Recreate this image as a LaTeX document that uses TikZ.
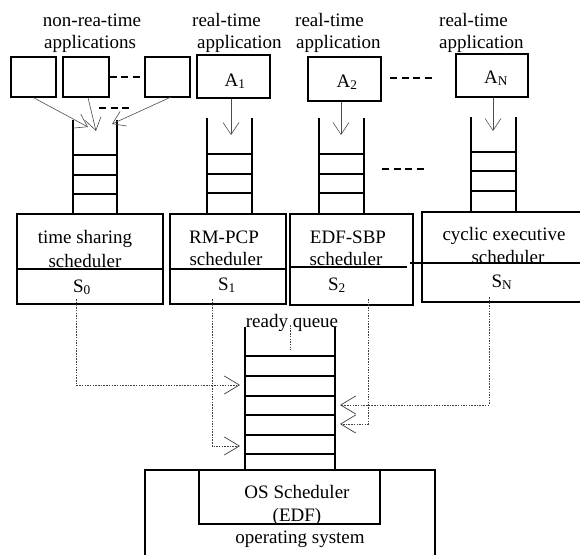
\documentclass[tikz,border=0pt]{standalone}
\usepackage{fontspec}
\setmainfont{Liberation Serif}
\usetikzlibrary{arrows.meta}
\begin{document}
\begin{tikzpicture}[x=1pt,y=-1pt,
  lbl/.style={font=\fontsize{19}{22}\selectfont, inner sep=0pt, anchor=base},
  lblw/.style={lbl, anchor=base west},
  box/.style={draw, line width=1.3pt, inner sep=0pt},
  qline/.style={line width=1.3pt},
  garr/.style={draw=black!70, line width=0.6pt, -{Straight Barb[length=12pt,width=16pt]}},
  dots/.style={draw=black!75, line width=0.7pt, dash pattern=on 1.5pt off 1.2pt},
  darr/.style={dots, -{Straight Barb[length=15pt,width=18pt]}},
  dashthree/.style={line width=1.5pt, dash pattern=on 7pt off 4.5pt},
]
\useasboundingbox (0,0) rectangle (580,554);

% application boxes
\node[box, minimum width=45pt, minimum height=40pt] (n1) at (33.5,77) {};
\node[box, minimum width=46pt, minimum height=40pt] (n2) at (86,77) {};
\node[box, minimum width=45pt, minimum height=40pt] (n3) at (167.5,77) {};
\node[box, minimum width=73pt, minimum height=43pt] (a1) at (233.5,76.5) {};
\node[box, minimum width=73pt, minimum height=44pt] (a2) at (344.5,79) {};
\node[box, minimum width=72pt, minimum height=43pt] (aN) at (492,75.5) {};

% scheduler boxes
\node[box, minimum width=146pt, minimum height=90pt] (s0) at (90,259) {};
\node[box, minimum width=116pt, minimum height=90pt] (s1) at (228,259) {};
\node[box, minimum width=123pt, minimum height=91pt] (s2) at (351.5,259.5) {};
\node[box, minimum width=162pt, minimum height=90pt] (sN) at (503,257) {};
\draw[qline] (17,269) -- (163,269);
\draw[qline] (170,269) -- (286,269);
\draw[qline] (290,267) -- (407,267);
\draw[qline] (410,263) -- (584,263);

% OS boxes
\node[box, minimum width=290pt, minimum height=90pt] (os) at (290,515) {};
\node[box, minimum width=181pt, minimum height=54pt] (oss) at (289.5,497) {};

% queues
\draw[qline] (73,120) -- (73,214) (117,120) -- (117,214)
  (73,155) -- (117,155) (73,175) -- (117,175) (73,194) -- (117,194);
\draw[qline] (207,118) -- (207,214) (252,118) -- (252,214)
  (207,154) -- (252,154) (207,174) -- (252,174) (207,193) -- (252,193);
\draw[qline] (319,118) -- (319,214) (364,118) -- (364,214)
  (319,154) -- (364,154) (319,174) -- (364,174) (319,193) -- (364,193);
\draw[qline] (471,117) -- (471,212) (516,117) -- (516,212)
  (471,152) -- (516,152) (471,171) -- (516,171) (471,191) -- (516,191);
% ready queue
\draw[qline] (245,327) -- (245,470) (335,327) -- (335,470);
\foreach \yy in {356,376,396,415,435,454}
  \draw[qline] (245,\yy) -- (335,\yy);

% dashed separators
\coordinate (dl1) at (99,108); \coordinate (dl2) at (131,108);
\coordinate (dr1) at (390,78); \coordinate (dr2) at (435,78);
\coordinate (dq1) at (382,169); \coordinate (dq2) at (427,169);
\draw[dashthree] (n2.east) -- (n3.west);
\draw[dashthree] (dl1) -- (dl2);
\draw[dashthree] (dr1) -- (dr2);
\draw[dashthree] (dq1) -- (dq2);

% arrows into queues
\coordinate (t1) at (88,127);
\coordinate (t2) at (96,131);
\coordinate (t3) at (112,124);
\coordinate (b3) at (171,97);
\draw[garr] (n1.south) -- (t1);
\draw[garr] ([xshift=2pt]n2.south) -- (t2);
\draw[garr] (b3) -- (t3);
\coordinate (qa1) at (231,135);
\coordinate (qa2) at (341,135);
\coordinate (qaN) at (493,131);
\draw[garr] (a1.south -| qa1) -- (qa1);
\draw[garr] (a2.south -| qa2) -- (qa2);
\draw[garr] (aN.south -| qaN) -- (qaN);

% dotted connectors to ready queue
\coordinate (d0) at (76,299);  \coordinate (r0) at (240,385);
\coordinate (d1) at (212,299); \coordinate (r1) at (240,446);
\coordinate (d2) at (368,299); \coordinate (r2) at (340,424);
\coordinate (dN) at (489,297); \coordinate (rN) at (340,405);
\draw[darr] (d0) |- (r0);
\draw[darr] (d1) |- (r1);
\draw[darr] (d2) |- (r2);
\draw[darr] (dN) |- (rN);
\coordinate (rq1) at (290,325); \coordinate (rq2) at (290,350);
\draw[dots] (rq1) -- (rq2);

% texts
\node[lbl] (l0a) at (92,26) {non-rea-time};
\node[lbl] (l0b) at (90,48) {applications};
\node[lblw] (l1a) at (192,26) {real-time};
\node[lblw] (l1b) at (197,48) {application};
\node[lblw] (l2a) at (295,26) {real-time};
\node[lblw] (l2b) at (296,48) {application};
\node[lblw] (l3a) at (439,26) {real-time};
\node[lblw] (l3b) at (439,48) {application};
\node[lbl] (ta1) at (235,86) {A\textsubscript{1}};
\node[lbl] (ta2) at (347,87) {A\textsubscript{2}};
\node[lbl] (taN) at (496,83) {A\textsubscript{N}};

\node[lbl] (s0a) at (85,243) {time sharing};
\node[lbl] (s0b) at (85,267) {scheduler};
\node[lbl] (s0c) at (82,292) {S\textsubscript{0}};
\node[lbl] (s1a) at (224,243) {RM-PCP};
\node[lbl] (s1b) at (226,265) {scheduler};
\node[lbl] (s1c) at (227,290) {S\textsubscript{1}};
\node[lbl] (s2a) at (348,243) {EDF-SBP};
\node[lbl] (s2b) at (346,265) {scheduler};
\node[lbl] (s2c) at (337,290) {S\textsubscript{2}};
\node[lbl] (sNa) at (504,240) {cyclic executive};
\node[lbl] (sNb) at (508,263) {scheduler};
\node[lbl] (sNc) at (502,287) {S\textsubscript{N}};

\node[lbl] (rq) at (292,327) {ready queue};
\node[lbl] (osa) at (297,498) {OS Scheduler};
\node[lbl] (osb) at (297,521) {(EDF)};
\node[lbl] (osc) at (300,543) {operating system};
\end{tikzpicture}
\end{document}
